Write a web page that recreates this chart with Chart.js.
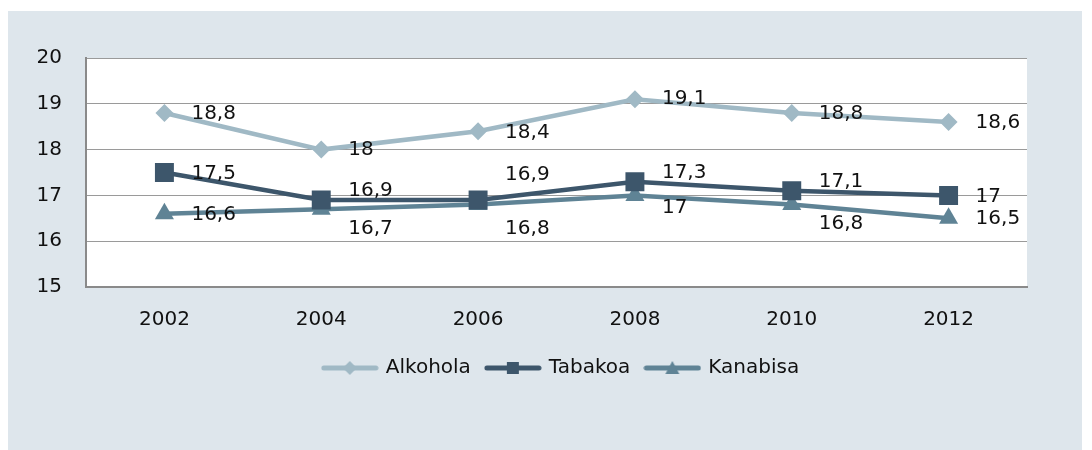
<!DOCTYPE html>
<html>
<head>
<meta charset="utf-8">
<script src="https://cdn.jsdelivr.net/npm/chart.js@4/dist/chart.umd.min.js"></script>
<style>
  body { margin: 0; background: #ffffff; }
  #wrap { position: absolute; left: 8px; top: 11px; width: 1074px; height: 439px; background: #dee6ec; }
</style>
</head>
<body>
<div id="wrap"><canvas id="grafikoa" width="1074" height="439"></canvas></div>
<script>
const urteak = ["2002", "2004", "2006", "2008", "2010", "2012"];
const alkohola = [18.8, 18, 18.4, 19.1, 18.8, 18.6];
const tabakoa = [17.5, 16.9, 16.9, 17.3, 17.1, 17];
const kanabisa = [16.6, 16.7, 16.8, 17, 16.8, 16.5];
const yTicks = [15, 16, 17, 18, 19, 20];

const kolAlkohola = "#a0b9c5";
const kolTabakoa = "#3d566b";
const kolKanabisa = "#5f8395";
const letra = "'DejaVu Sans', sans-serif";

// label vertical shifts so they don't overlap (like the original)
const labelShift = [
    [1, 0, 2, 0, 1, 1],
    [1, -9, -25, -9, -9, 1],
    [1, 20, 24, 12, 19, 0]
];

// legend icon: short line with the marker in the middle
function legendIcon(color, shape) {
    const c = document.createElement("canvas");
    c.width = 58; c.height = 20;
    const ctx = c.getContext("2d");
    ctx.strokeStyle = color;
    ctx.lineWidth = 5;
    ctx.lineCap = "round";
    ctx.beginPath();
    ctx.moveTo(3, 10); ctx.lineTo(55, 10);
    ctx.stroke();
    ctx.fillStyle = color;
    ctx.beginPath();
    if (shape === "diamond") {
        ctx.moveTo(29, 3); ctx.lineTo(36, 10); ctx.lineTo(29, 17); ctx.lineTo(22, 10);
    } else if (shape === "square") {
        ctx.rect(23, 4, 12, 12);
    } else {
        ctx.moveTo(29, 3); ctx.lineTo(36, 16); ctx.lineTo(22, 16);
    }
    ctx.closePath();
    ctx.fill();
    return c;
}

const ikonoak = [
    legendIcon(kolAlkohola, "diamond"),
    legendIcon(kolTabakoa, "square"),
    legendIcon(kolKanabisa, "triangle")
];

const plotBackground = {
    id: "plotBackground",
    afterLayout(chart) {
        // Excel puts the legend a bit right of centre
        chart.legend.left += 44;
        chart.legend.right += 44;
    },
    beforeDraw(chart) {
        const { ctx, chartArea } = chart;
        ctx.save();
        ctx.fillStyle = "#ffffff";
        ctx.fillRect(chartArea.left, chartArea.top, chartArea.right - chartArea.left, chartArea.bottom - chartArea.top);
        ctx.restore();
    }
};

const dataLabels = {
    id: "dataLabels",
    afterDatasetsDraw(chart) {
        const ctx = chart.ctx;
        ctx.save();
        ctx.font = "20px " + letra;
        ctx.fillStyle = "#111111";
        ctx.textAlign = "left";
        ctx.textBaseline = "middle";
        chart.data.datasets.forEach((ds, i) => {
            chart.getDatasetMeta(i).data.forEach((pt, j) => {
                const txt = String(ds.data[j]).replace(".", ",");
                ctx.fillText(txt, pt.x + 27, pt.y + labelShift[i][j]);
            });
        });
        ctx.restore();
    }
};

new Chart(document.getElementById("grafikoa"), {
    type: "line",
    data: {
        labels: urteak,
        datasets: [
            {
                label: "Alkohola",
                data: alkohola,
                borderColor: kolAlkohola,
                backgroundColor: kolAlkohola,
                borderWidth: 4.5,
                pointStyle: "rectRot",
                pointRadius: 9,
                pointBorderWidth: 0,
                tension: 0
            },
            {
                label: "Tabakoa",
                data: tabakoa,
                borderColor: kolTabakoa,
                backgroundColor: kolTabakoa,
                borderWidth: 4.5,
                pointStyle: "rect",
                pointRadius: 13.4,
                pointBorderWidth: 0,
                tension: 0
            },
            {
                label: "Kanabisa",
                data: kanabisa,
                borderColor: kolKanabisa,
                backgroundColor: kolKanabisa,
                borderWidth: 4.5,
                pointStyle: "triangle",
                pointRadius: 11,
                pointBorderWidth: 0,
                tension: 0
            }
        ]
    },
    options: {
        responsive: false,
        animation: false,
        layout: { padding: { top: 47, right: 55, bottom: 62, left: 0 } },
        plugins: {
            tooltip: { enabled: false },
            legend: {
                position: "bottom",
                labels: {
                    usePointStyle: true,
                    pointStyleWidth: 52,
                    padding: 16,
                    color: "#111111",
                    font: { family: letra, size: 20 },
                    generateLabels(chart) {
                        return chart.data.datasets.map((ds, i) => ({
                            text: ds.label,
                            pointStyle: ikonoak[i],
                            datasetIndex: i,
                            fontColor: "#111111",
                            lineWidth: 0,
                            hidden: false
                        }));
                    }
                }
            }
        },
        scales: {
            x: {
                offset: true,
                grid: { display: false, drawTicks: false },
                border: { color: "#8a8a8a", width: 2 },
                ticks: { color: "#111111", padding: 21, font: { family: letra, size: 20 } },
                afterFit(scale) { scale.height = 55; }
            },
            y: {
                min: 15,
                max: 20,
                afterBuildTicks(scale) { scale.ticks = yTicks.map(v => ({ value: v })); },
                grid: { color: "#9a9a9a", lineWidth: 1, drawTicks: false },
                border: { color: "#8a8a8a", width: 2 },
                ticks: { color: "#111111", padding: 24, font: { family: letra, size: 20 } },
                afterFit(scale) { scale.width = 78; }
            }
        }
    },
    plugins: [plotBackground, dataLabels]
});
</script>
</body>
</html>
